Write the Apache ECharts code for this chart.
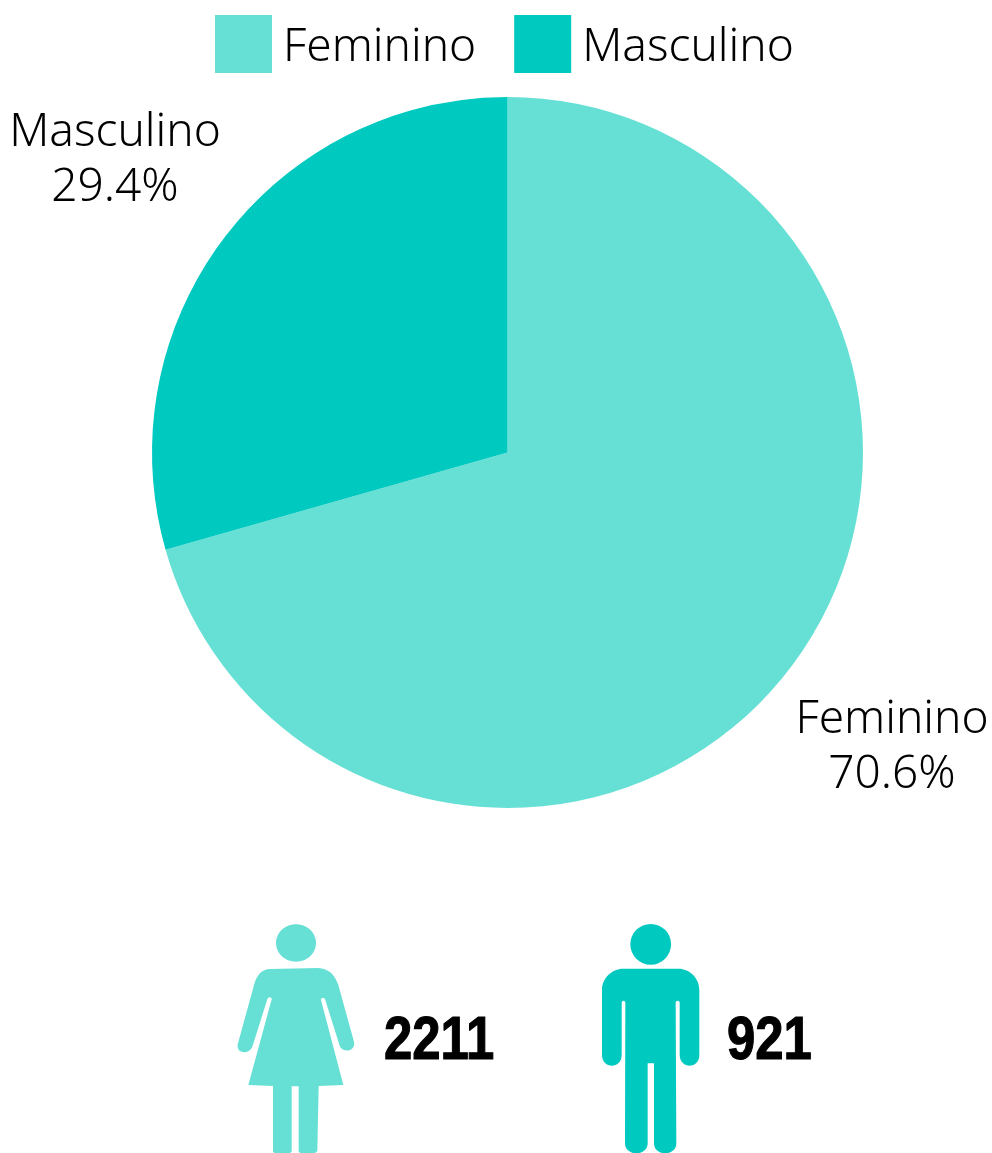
<!DOCTYPE html>
<html>
<head>
<meta charset="utf-8">
<style>html,body{margin:0;padding:0;background:#fff;overflow:hidden}#c{width:992px;height:1153px}</style>
<script src="https://cdn.jsdelivr.net/npm/echarts@6/dist/echarts.min.js"></script>
</head>
<body>
<div id="c"></div>
<script>
const categories = ['Feminino', 'Masculino'];
const counts = [2211, 921];
const colors = ['#66e0d5', '#00c9c0'];

const FONT = '"Noto Sans", sans-serif';
const NUM_FONT = '"Liberation Sans", sans-serif';
const womanBody = 'M150 177 L295 174 C325 175 345 195 355 225 L402 395 C408 420 375 432 360 410 L316 270 C314 262 302 262 303 270 L370 525 L296 528 L292 722 Q290 729 282 729 L245 729 Q236 729 236 722 L236 529 L215 529 L215 722 Q215 729 205 729 L168 729 Q159 729 159 722 L159 528 L85 525 L155 268 C156 260 143 260 142 268 L97 410 C85 437 45 430 54 400 L102 225 C110 195 125 178 150 177 Z';
const manBody = 'M130 176 L295 176 C330 176 358 205 358 240 L358 435 C358 478 300 478 299 435 L299 278 C299 270 287 270 287 278 L289 700 C289 740 222 740 222 700 L222 460 L203 460 L203 700 C203 740 135 740 135 700 L136 278 C136 270 125 270 125 278 L125 435 C125 478 66 478 66 435 L66 240 C66 205 95 176 130 176 Z';
const figureSpots = [
  {x: 220, y: 910, body: womanBody, head: {type: 'ellipse', shape: {cx: 296, cy: 943, rx: 20, ry: 18.7}}, numX: 383},
  {x: 580, y: 910, body: manBody, head: {type: 'circle', shape: {cx: 650.7, cy: 944.3, r: 20.4}}, numX: 726}
];

const chart = echarts.init(document.getElementById('c'), null, {renderer: 'canvas'});
const labelSpots = [{x: 892, y: 747.5}, {x: 115, y: 160.5}];
chart.setOption({
  animation: false,
  backgroundColor: '#fff',
  color: colors,
  legend: {
    show: true, left: 215, top: 15, padding: 0, icon: 'rect', itemWidth: 57, itemHeight: 58, itemGap: 38,
    selectedMode: false,
    data: categories,
    formatter: '{t|{name}}',
    textStyle: {
      fontFamily: FONT, fontSize: 46, fontWeight: 300, color: '#000',
      rich: {t: {fontFamily: FONT, fontSize: 46, fontWeight: 300, color: '#000', padding: [8, 0, 0, 6]}}
    }
  },
  series: [{
    type: 'pie', center: [507.5, 452.5], radius: [0, 355.5], startAngle: 90, clockwise: true,
    percentPrecision: 1, silent: true,
    data: categories.map((name, i) => ({name, value: counts[i]})),
    label: {show: true, formatter: '{b}\n{d}%', fontFamily: FONT, fontSize: 46, fontWeight: 300, color: '#000', lineHeight: 55, align: 'center', overflow: 'none', width: 300},
    labelLine: {show: false},
    labelLayout: p => ({x: labelSpots[p.dataIndex].x, y: labelSpots[p.dataIndex].y, align: 'center', verticalAlign: 'middle'})
  }, {
    type: 'custom', coordinateSystem: 'none', silent: true,
    data: counts,
    renderItem: (params, api) => {
      const i = params.dataIndex, f = figureSpots[i];
      return {type: 'group', children: [
        Object.assign({style: {fill: colors[i]}}, f.head),
        {type: 'path', x: f.x, y: f.y, scaleX: 1/3, scaleY: 1/3, shape: {pathData: f.body}, style: {fill: colors[i]}},
        {type: 'text', x: f.numX + 1, y: 1073, scaleX: 0.82, style: {text: String(api.value(0)), font: 'bold 62px ' + NUM_FONT, fill: '#000', stroke: '#000', lineWidth: 1.2, verticalAlign: 'bottom'}}
      ]};
    }
  }]
});
</script>
</body>
</html>
